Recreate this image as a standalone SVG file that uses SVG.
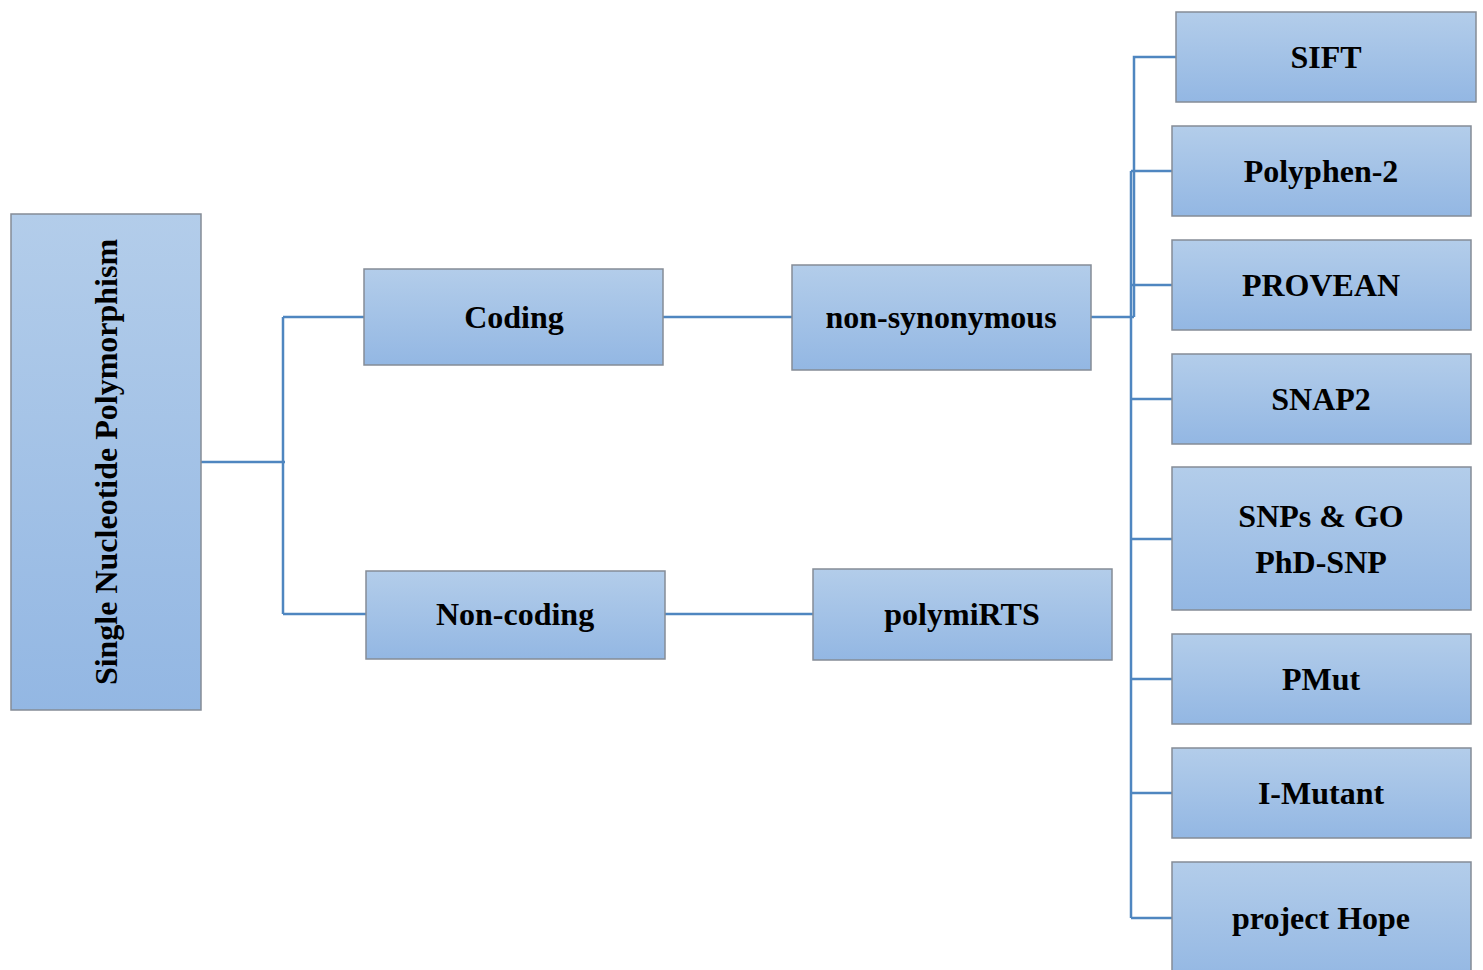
<svg xmlns="http://www.w3.org/2000/svg" width="1483" height="970" viewBox="0 0 1483 970">
<defs>
<linearGradient id="g" x1="0" y1="0" x2="0" y2="1">
<stop offset="0" stop-color="#b3cdea"/>
<stop offset="1" stop-color="#93b7e3"/>
</linearGradient>
<style>
.box{fill:url(#g);stroke:#858c96;stroke-width:1.5}
.t{font-family:"Liberation Serif","Times New Roman",serif;font-weight:bold;font-size:32px;fill:#000;text-anchor:middle;dominant-baseline:central}
.c{fill:none;stroke:#4f86c0;stroke-width:2.5}
</style>
</defs>
<rect width="1483" height="970" fill="#fff"/>
<g id="connectors">
<path class="c" d="M201,462H285M283,317V614M283,317H364M283,614H366"/>
<path class="c" d="M663,317H792M665,614H813"/>
<path class="c" d="M1091,317H1134M1134,317V57H1176"/>
<path class="c" d="M1131,171V918M1131,171H1172M1131,285H1172M1131,399H1172M1131,539H1172M1131,679H1172M1131,793H1172M1131,918H1172"/>
</g>
<g id="snp"><rect class="box" x="11" y="214" width="190" height="496"/><text class="t" transform="translate(106,462) rotate(-90)" font-size="30">Single Nucleotide Polymorphism</text></g>
<g id="coding"><rect class="box" x="364" y="269" width="299" height="96"/><text class="t" x="514" y="317">Coding</text></g>
<g id="noncoding"><rect class="box" x="366" y="571" width="299" height="88"/><text class="t" x="515" y="614">Non-coding</text></g>
<g id="nonsyn"><rect class="box" x="792" y="265" width="299" height="105"/><text class="t" x="941" y="317">non-synonymous</text></g>
<g id="polymirts"><rect class="box" x="813" y="569" width="299" height="91"/><text class="t" x="962" y="614">polymiRTS</text></g>
<g id="sift"><rect class="box" x="1176" y="12" width="300" height="90"/><text class="t" x="1326" y="57">SIFT</text></g>
<g id="polyphen"><rect class="box" x="1172" y="126" width="299" height="90"/><text class="t" x="1321" y="171">Polyphen-2</text></g>
<g id="provean"><rect class="box" x="1172" y="240" width="299" height="90"/><text class="t" x="1321" y="285">PROVEAN</text></g>
<g id="snap2"><rect class="box" x="1172" y="354" width="299" height="90"/><text class="t" x="1321" y="399">SNAP2</text></g>
<g id="snpsgo"><rect class="box" x="1172" y="467" width="299" height="143"/><text class="t" x="1321" y="516">SNPs &amp; GO</text><text class="t" x="1321" y="562">PhD-SNP</text></g>
<g id="pmut"><rect class="box" x="1172" y="634" width="299" height="90"/><text class="t" x="1321" y="679">PMut</text></g>
<g id="imutant"><rect class="box" x="1172" y="748" width="299" height="90"/><text class="t" x="1321" y="793">I-Mutant</text></g>
<g id="hope"><rect class="box" x="1172" y="862" width="299" height="120"/><text class="t" x="1321" y="918">project Hope</text></g>
</svg>
